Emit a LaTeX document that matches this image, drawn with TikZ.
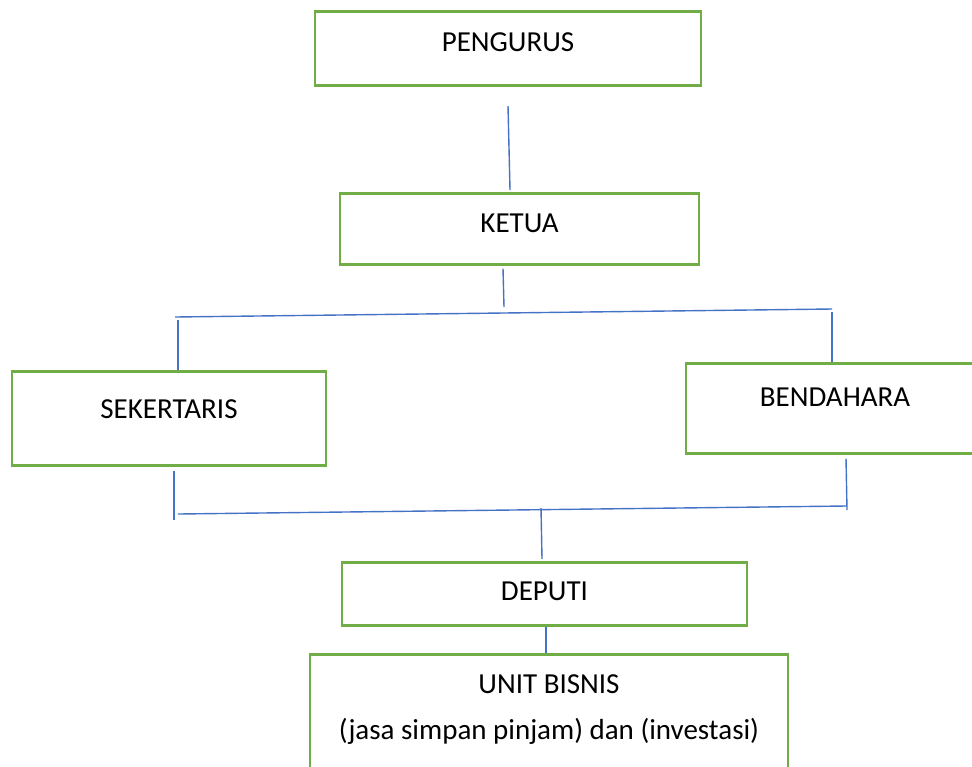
\documentclass[tikz,border=0pt]{standalone}
\usepackage{fontspec}
\setmainfont{Carlito}
\begin{document}
\begin{tikzpicture}[
            x=0.5pt, y=-0.5pt,
            box/.style={draw=boxgreen, line width=1.3pt, anchor=north, inner sep=0pt,
                font=\fontsize{14.5}{17.4}\selectfont},
            link/.style={draw=linkblue, line width=0.7pt}
        ]
            \definecolor{boxgreen}{HTML}{70AD47}
            \definecolor{linkblue}{HTML}{4472C4}
            \useasboundingbox (0,0) rectangle (972,766);
            \clip (0,0) rectangle (972,766);
            \node[box, minimum width=193pt, text height=20pt, text depth=17pt] (pengurus) at (508,10) {PENGURUS};
            \node[box, minimum width=179.5pt, text height=19.5pt, text depth=16pt] (ketua) at (519.5,192) {KETUA};
            \node[box, minimum width=157pt, text height=23.5pt, text depth=23.5pt] (sekertaris) at (169,370) {SEKERTARIS};
            \node[box, minimum width=149pt, text height=21.5pt, text depth=23.5pt] (bendahara) at (835,362) {BENDAHARA};
            \node[box, minimum width=202.5pt, text height=19pt, text depth=12.5pt] (deputi) at (544.5,561) {DEPUTI};
            \node[box, minimum width=239pt, text height=19.5pt, text depth=60pt] (unit) at (549,653)
                {\begin{tabular}[t]{@{}c@{}}UNIT BISNIS\\[5.6pt](jasa simpan pinjam) dan (investasi)\end{tabular}};
            % garis penghubung
            \coordinate (pengurus-out) at (508,106);
            \coordinate (ketua-out) at (504,307);
            \coordinate (atas-kiri) at (175,317);
            \coordinate (atas-kanan) at (832,309);
            \coordinate (atas-kiri-turun) at (178,320);
            \coordinate (atas-kanan-turun) at (832,312);
            \coordinate (bawah-kiri) at (178,514);
            \coordinate (bawah-kanan) at (846,506);
            \coordinate (sek-out) at (174,520);
            \coordinate (ben-out) at (847,510);
            \coordinate (bawah-tengah) at (541,508);
            \draw[link] (pengurus-out) -- ([xshift=-4.75pt,yshift=1pt]ketua.north);
            \draw[link] ([xshift=-8.25pt,yshift=-1.5pt]ketua.south) -- (ketua-out);
            \draw[link] (atas-kiri) -- (atas-kanan);
            \draw[link] (atas-kiri-turun) -- ([xshift=4.5pt]sekertaris.north);
            \draw[link] (atas-kanan-turun) -- ([xshift=-1.5pt]bendahara.north);
            \draw[link] ([xshift=2.5pt,yshift=-2pt]sekertaris.south) -- (sek-out);
            \draw[link] ([xshift=5.5pt,yshift=-2pt]bendahara.south) -- (ben-out);
            \draw[link] (bawah-kiri) -- (bawah-kanan);
            \draw[link] (bawah-tengah) -- ([xshift=-1.25pt,yshift=1pt]deputi.north);
            \draw[link] ([xshift=0.75pt]deputi.south) -- ([xshift=-1.5pt]unit.north);
        \end{tikzpicture}
\end{document}
